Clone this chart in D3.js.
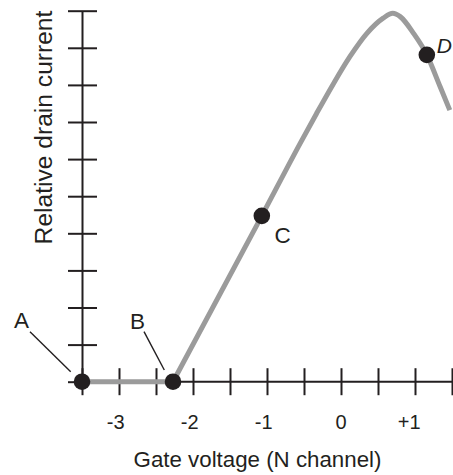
<!DOCTYPE html>
<html>
<head>
<meta charset="utf-8">
<script src="https://cdn.jsdelivr.net/npm/d3@7"></script>
<style>
  html, body { margin: 0; padding: 0; background: #fff; }
  svg { display: block; }
  text { font-family: "Liberation Sans", Arial, sans-serif; fill: #231f20; }
</style>
</head>
<body>
<svg id="chart" width="453" height="475"></svg>
<script>
// ---- data ----
const xDomain = [-3.5, 1.5];
const yDomain = [0, 10];
const xTickValues = [-3.5, -3, -2.5, -2, -1.5, -1, -0.5, 0, 0.5, 1, 1.5];
const xLabelValues = [-3, -2, -1, 0, 1];
const xLabelTexts = ["-3", "-2", "-1", "0", "+1"];
const yTickValues = [0, 1, 2, 3, 4, 5, 6, 7, 8, 9, 10];

// transfer curve: flat part (cut-off) then rising part
const flatV = [-3.5, -2.27];
const flatI = [0, 0];
const curveV = [-2.27, -1.07, -0.55, -0.33, -0.10, 0.12, 0.35, 0.57, 0.70, 0.80, 0.98, 1.16, 1.34, 1.47];
const curveI = [0, 4.47, 6.43, 7.23, 8.04, 8.76, 9.39, 9.80, 9.93, 9.84, 9.39, 8.81, 7.95, 7.32];

// marked operating points
const pointNames = ["A", "B", "C", "D"];
const pointV = [-3.5, -2.27, -1.07, 1.16];
const pointI = [0, 0, 4.47, 8.81];

const xTitle = "Gate voltage (N channel)";
const yTitle = "Relative drain current";

// ---- drawing ----
const svg = d3.select("#chart");
const x = d3.scaleLinear().domain(xDomain).range([82, 452]);
const y = d3.scaleLinear().domain(yDomain).range([381.7, 10.7]);
const ink = "#231f20";

// x axis
const gx = svg.append("g").attr("transform", `translate(0,${y(0)})`)
  .call(d3.axisBottom(x).tickValues(xTickValues).tickFormat("").tickSizeOuter(0));
gx.select(".domain").attr("stroke", ink).attr("stroke-width", 2)
  .attr("d", `M${x(xDomain[0])},0H453`);
gx.selectAll(".tick line").attr("stroke", ink).attr("stroke-width", 2)
  .attr("y1", -13.5).attr("y2", 13.5);

// y axis
const gy = svg.append("g").attr("transform", `translate(${x(xDomain[0])},0)`)
  .call(d3.axisLeft(y).tickValues(yTickValues).tickFormat("").tickSizeOuter(0));
gy.select(".domain").attr("stroke", ink).attr("stroke-width", 2);
gy.selectAll(".tick line").attr("stroke", ink).attr("stroke-width", 2)
  .attr("x1", -14).attr("x2", 15);

// x tick labels: digit centred under tick, sign hanging to the left
svg.append("g").selectAll("text").data(xLabelValues).join("text")
  .attr("x", d => x(d) + 5.6)
  .attr("y", 428.5)
  .attr("text-anchor", "end")
  .style("font-size", "20px")
  .text((d, i) => xLabelTexts[i]);

// axis titles
svg.append("text").attr("x", 257.5).attr("y", 466.5)
  .attr("text-anchor", "middle").style("font-size", "22.3px").text(xTitle);
svg.append("text").attr("transform", "translate(51.5,127.5) rotate(-90)")
  .attr("text-anchor", "middle").style("font-size", "24.6px").text(yTitle);

// curve
const lin = d3.line().x(d => x(d[0])).y(d => y(d[1]));
const smooth = d3.line().x(d => x(d[0])).y(d => y(d[1])).curve(d3.curveMonotoneX);
const flatPts = flatV.map((v, i) => [v, flatI[i]]);
const curvePts = curveV.map((v, i) => [v, curveI[i]]);
svg.append("path").attr("d", lin(flatPts) + smooth(curvePts))
  .attr("fill", "none").attr("stroke", "#9b9b9b").attr("stroke-width", 5)
  .attr("stroke-linejoin", "round");

// leader lines for A and B
svg.append("line").attr("x1", 30).attr("y1", 331.7).attr("x2", 70.7).attr("y2", 371.7)
  .attr("stroke", ink).attr("stroke-width", 1.4);
svg.append("line").attr("x1", 144).attr("y1", 331.7).attr("x2", 164.3).attr("y2", 370)
  .attr("stroke", ink).attr("stroke-width", 1.4);

// points
svg.append("g").selectAll("circle").data(pointNames).join("circle")
  .attr("cx", (d, i) => x(pointV[i]))
  .attr("cy", (d, i) => y(pointI[i]))
  .attr("r", 8.3)
  .attr("fill", ink);

// point labels
const labelPos = {
  A: [21.5, 328.3, "middle", "normal"],
  B: [137.5, 328.5, "middle", "normal"],
  C: [282.5, 243.3, "middle", "normal"],
  D: [452, 53.3, "end", "italic"]
};
svg.append("g").selectAll("text").data(pointNames).join("text")
  .attr("x", d => labelPos[d][0])
  .attr("y", d => labelPos[d][1])
  .attr("text-anchor", d => labelPos[d][2])
  .style("font-size", d => d === "D" ? "21px" : "22.5px")
  .style("font-style", d => labelPos[d][3])
  .text(d => d);
</script>
</body>
</html>
